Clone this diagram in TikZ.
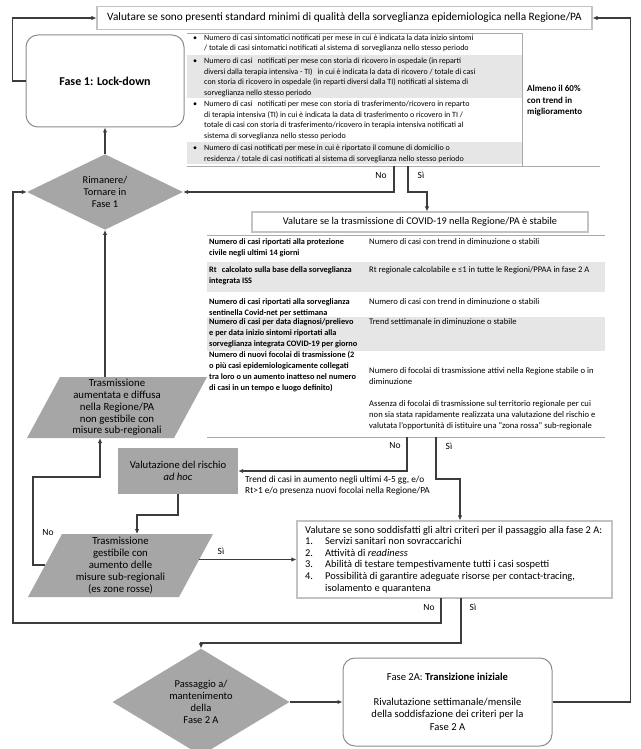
\documentclass[tikz,border=0pt]{standalone}
\usepackage{fontspec}
\setmainfont{Carlito}
\usetikzlibrary{shapes.geometric,arrows.meta}
\definecolor{ln}{RGB}{60,60,60}
\definecolor{shp}{RGB}{166,166,166}
\definecolor{rowg}{RGB}{230,230,230}
\definecolor{bx}{RGB}{195,195,195}
\definecolor{rb}{RGB}{140,140,140}
\definecolor{tl}{RGB}{170,170,170}
\newcommand\fA{\fontsize{8}{10.5}\selectfont}
\newcommand\fB{\fontsize{8.3}{11}\selectfont}
\newcommand\fR{\fontsize{8.6}{11}\selectfont}
\newcommand\fS{\fontsize{10.4}{11.8}\selectfont}
\newcommand\fP{\fontsize{10.8}{11.8}\selectfont}
\newcommand\fT{\fontsize{11.3}{13}\selectfont}
\newcommand\fC{\fontsize{10.4}{11.6}\selectfont}
\begin{document}
\begin{tikzpicture}[x=1pt,y=-1pt,
  conn/.style={draw=ln,line width=1.5pt,-{Latex[length=5pt,width=4.5pt]}},
  tline/.style={draw=tl,line width=0.7pt},
  txt/.style={inner sep=0pt,anchor=base west,align=left},
  lbl/.style={inner sep=0pt,font=\fontsize{9.5}{10}\selectfont},
  lbox/.style={draw=bx,line width=1.1pt,fill=white,inner sep=0pt},
  rbox/.style={draw=rb,line width=1pt,fill=white,rounded corners=12pt,inner sep=0pt},
  dia/.style={diamond,fill=shp,inner sep=0pt,align=center,font=\fS},
  ptxt/.style={inner sep=0pt,align=center,font=\fP}
]
\useasboundingbox[fill=white] (0,0) rectangle (640,749);

% top box
\node[lbox,minimum width=495,minimum height=23,font=\fT] (top) at (344.5,18) {Valutare se sono presenti standard minimi di qualità della sorveglianza epidemiologica nella Regione/PA};

% Fase 1
\node[rbox,minimum width=158,minimum height=92,font=\bfseries\fontsize{12}{14}\selectfont] (f1) at (105,81) {Fase 1: Lock-down};

% table 1 (node base = baseline of last line)
\fill[rowg] (187,55) rectangle (522,98);
\fill[rowg] (187,142) rectangle (522,164);
\draw[tline] (187,33) -- (522,33);
\draw[tline] (522,33) -- (522,166);
\draw[tline] (187,166) -- (600,166);
\node[txt,font=\fA] (b1) at (193,40.1) {•};
\node[txt,font=\fA] (r1) at (204,50.6) {Numero di casi sintomatici notificati per mese in cui è indicata la data inizio sintomi\\/ totale di casi sintomatici notificati al sistema di sorveglianza nello stesso periodo};
\node[txt,font=\fA] (b2) at (193,63.6) {•};
\node[txt,font=\fA] (r2) at (204,95.1) {Numero di casi \, notificati per mese con storia di ricovero in ospedale (in reparti\\diversi dalla terapia intensiva - TI) \, in cui è indicata la data di ricovero / totale di casi\\con storia di ricovero in ospedale (in reparti diversi dalla TI) notificati al sistema di\\sorveglianza nello stesso periodo};
\node[txt,font=\fA] (b3) at (193,106.6) {•};
\node[txt,font=\fA] (r3) at (204,138.1) {Numero di casi \, notificati per mese con storia di trasferimento/ricovero in reparto\\di terapia intensiva (TI) in cui è indicata la data di trasferimento o ricovero in TI /\\totale di casi con storia di trasferimento/ricovero in terapia intensiva notificati al\\sistema di sorveglianza nello stesso periodo};
\node[txt,font=\fA] (b4) at (193,150.6) {•};
\node[txt,font=\fA] (r4) at (204,161.1) {Numero di casi notificati per mese in cui è riportato il comune di domicilio o\\residenza / totale di casi notificati al sistema di sorveglianza nello stesso periodo};
\node[txt,font=\bfseries\fontsize{9}{11.5}\selectfont] (alm) at (527,114.9) {Almeno il 60\%\\con trend in\\miglioramento};

\coordinate (t1no) at (394,166);
\coordinate (t1si) at (408,166);
\node[lbl] (n1) at (381,175) {No};
\node[lbl] (s1) at (421,175) {Sì};

% diamond 1
\node[dia,minimum width=156,minimum height=66] (d1) at (105,192) {Rimanere/\\Tornare in\\Fase 1};
\draw[conn] (d1.north) -- (f1.south);
\draw[conn] (t1no) |- (d1.east);

% box 2
\node[lbox,minimum width=336,minimum height=20,font=\fontsize{10.3}{12}\selectfont] (bx2) at (420,222) {Valutare se la trasmissione di COVID-19 nella Regione/PA è stabile};
\draw[conn] (t1si) -- ++(0,26) -| ([xshift=7pt]bx2.north);

% table 2
\fill[rowg] (207,262) rectangle (605,292);
\fill[rowg] (207,317) rectangle (605,351);
\draw[tline] (207,235) -- (605,235);
\draw[tline] (207,437) -- (605,437);
\node[txt,font=\bfseries\fB] (l1) at (209,255.6) {Numero di casi riportati alla protezione\\civile negli ultimi 14 giorni};
\node[txt,font=\fR] (q1) at (369,244.6) {Numero di casi con trend in diminuzione o stabili};
\node[txt,font=\bfseries\fB] (l2) at (209,283.6) {Rt \, calcolato sulla base della sorveglianza\\integrata ISS};
\node[txt,font=\fR] (q2) at (369,272.6) {Rt regionale calcolabile e ≤1 in tutte le Regioni/PPAA in fase 2 A};
\node[txt,font=\bfseries\fB] (l3) at (209,315.6) {Numero di casi riportati alla sorveglianza\\sentinella Covid-net per settimana};
\node[txt,font=\fR] (q3) at (369,304.6) {Numero di casi con trend in diminuzione o stabili};
\node[txt,font=\bfseries\fB] (l4) at (209,346.6) {Numero di casi per data diagnosi/prelievo\\e per data inizio sintomi riportati alla\\sorveglianza integrata COVID-19 per giorno};
\node[txt,font=\fR] (q4) at (369,324.6) {Trend settimanale in diminuzione o stabile};
\node[txt,font=\bfseries\fB] (l5) at (209,390.6) {Numero di nuovi focolai di trasmissione (2\\o più casi epidemiologicamente collegati\\tra loro o un aumento inatteso nel numero\\di casi in un tempo e luogo definito)};
\node[txt,font=\fR] (q5) at (369,384.6) {Numero di focolai di trasmissione attivi nella Regione stabile o in\\diminuzione};
\node[txt,font=\fR] (q6) at (369,428.6) {Assenza di focolai di trasmissione sul territorio regionale per cui\\non sia stata rapidamente realizzata una valutazione del rischio e\\valutata l’opportunità di istituire una “zona rossa” sub-regionale};

\coordinate (t2no) at (407,437);
\coordinate (t2si) at (436,437);
\node[lbl] (n2) at (395,445) {No};
\node[lbl] (s2) at (449,446) {Sì};

% parallelogram aumentata
\fill[shp] (60,377) -- (207,377) -- (174,438) -- (27,438) -- cycle;
\node[ptxt] (aum) at (117,407.5) {Trasmissione\\aumentata e diffusa\\nella Regione/PA\\non gestibile con\\misure sub-regionali};
\coordinate (aumtop) at (105,377);
\coordinate (aumbot) at (100,438);
\draw[conn] (aumtop) -- (d1.south);

% valutazione ad hoc
\node[fill=shp,minimum width=120,minimum height=46,inner sep=0pt,align=center,font=\fontsize{10.6}{12}\selectfont] (val) at (178,471) {Valutazione del rischio\\\textit{ad hoc}};
\draw[conn] (t2no) |- (val.east);
\node[txt,font=\fontsize{9.3}{11.5}\selectfont] (trend) at (245,493.5) {Trend di casi in aumento negli ultimi 4-5 gg, e/o\\Rt>1 e/o presenza nuovi focolai nella Regione/PA};

% parallelogram gestibile
\fill[shp] (62,534) -- (213,534) -- (179,597) -- (28,597) -- cycle;
\node[ptxt] (ges) at (120.5,565.5) {Trasmissione\\gestibile con\\aumento delle\\misure sub-regionali\\(es zone rosse)};
\coordinate (gestop) at (137,534);
\coordinate (gesl) at (45,565);
\coordinate (gesr) at (199,559.5);
\coordinate (nocorner) at (33,477);
\draw[conn] (val.south) -- ++(0,21) -| (gestop);
\draw[conn] (gesl) -| (nocorner) -| (aumbot);
\node[lbl] (n3) at (48,532) {No};
\node[lbl] (s3) at (221,551) {Sì};

% box 3
\node[lbox,minimum width=315,minimum height=77] (bx3) at (454.5,559.5) {};
\draw[conn] (t2si) -- ++(0,42) -| ([xshift=5.5pt]bx3.north);
\draw[conn] (gesr) -- (bx3.west);
\node[txt,font=\fC] (c0) at (305,591) {Valutare se sono soddisfatti gli altri criteri per il passaggio alla fase 2 A:\\
\makebox[20pt][l]{1.}Servizi sanitari non sovraccarichi\\
\makebox[20pt][l]{2.}Attività di \textit{readiness}\\
\makebox[20pt][l]{3.}Abilità di testare tempestivamente tutti i casi sospetti\\
\makebox[20pt][l]{4.}Possibilità di garantire adeguate risorse per contact-tracing,\\
\hspace*{20pt}isolamento e quarantena};

\coordinate (b3no) at (441,598);
\coordinate (b3si) at (461,598);
\coordinate (lft) at (13,623);
\node[lbl] (n4) at (429,607) {No};
\node[lbl] (s4) at (473,607) {Sì};
\draw[conn] (b3no) |- (lft) |- (d1.west);

% diamond 2
\node[dia,minimum width=177,minimum height=83,font=\fontsize{10.5}{12}\selectfont] (d2) at (201,702) {Passaggio a/\\mantenimento\\della\\Fase 2 A};
\draw[conn] (b3si) -- ++(0,45) -| (d2.north);

% Fase 2A
\node[rbox,minimum width=209,minimum height=88,align=center,font=\fontsize{10.6}{12.5}\selectfont] (f2a) at (447.5,702) {Fase 2A: \textbf{Transizione iniziale}\\[12pt]Rivalutazione settimanale/mensile\\della soddisfazione dei criteri per la\\Fase 2 A};
\draw[conn] (d2.east) -- (f2a.west);

% feedback loops
\draw[conn] (f1.west) -- ++(-13,0) |- (top.west);
\draw[conn] (f2a.east) -- ++(78,0) |- (top.east);
\end{tikzpicture}
\end{document}
